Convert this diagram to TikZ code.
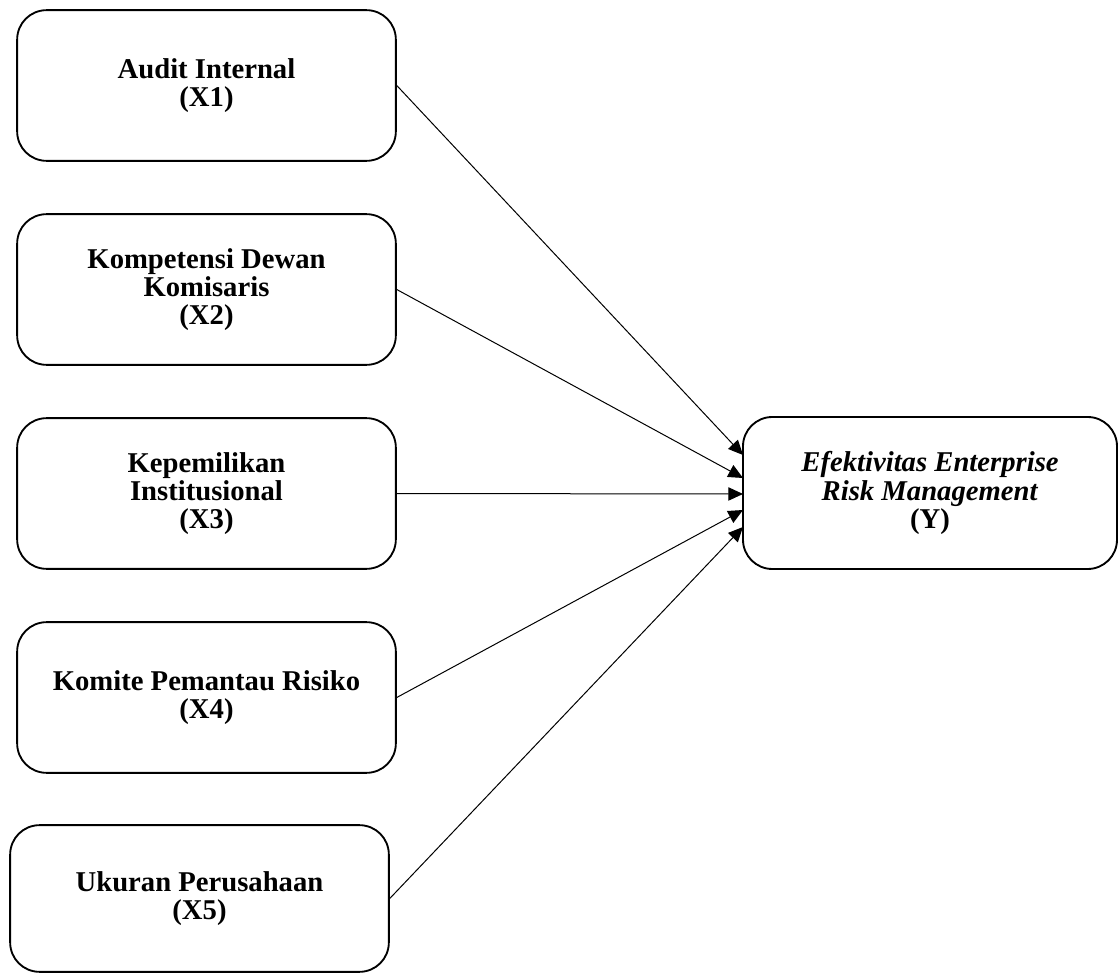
\documentclass[tikz,border=0pt]{standalone}
\usepackage{fontspec}
\setmainfont{Liberation Serif}
\usetikzlibrary{arrows.meta}
\begin{document}
\begin{tikzpicture}[x=0.75pt,y=-0.75pt,
  box/.style={draw, line width=1.4pt, rounded corners=22pt, minimum width=284pt,
    minimum height=113pt, inner sep=0pt, align=center,
    font=\fontsize{21.5}{21.2}\selectfont\bfseries},
  arr/.style={line width=0.75pt, -{Triangle[length=11pt,width=10pt]}}]
\useasboundingbox (0,0) rectangle (1118,973);
\node[box] (x1) at (206.5,85.5) {Audit Internal\\(X1)};
\node[box] (x2) at (206.5,289.5) {Kompetensi Dewan\\Komisaris\\(X2)};
\node[box] (x3) at (206.5,493.5) {Kepemilikan\\Institusional\\(X3)};
\node[box] (x4) at (206.5,697.5) {Komite Pemantau Risiko\\(X4)};
\node[box, minimum height=110pt] (x5) at (199.5,898.5) {Ukuran Perusahaan\\(X5)};
\node[box, minimum width=280.5pt, minimum height=114pt] (y) at (930,493)
  {\textit{Efektivitas Enterprise}\\\textit{Risk Management}\\(Y)};
\coordinate (t1) at (743,455);
\coordinate (t2) at (743,478);
\coordinate (t3) at (743,494);
\coordinate (t4) at (743,510);
\coordinate (t5) at (743,527);
\draw[arr] (x1.east) -- (t1);
\draw[arr] (x2.east) -- (t2);
\draw[arr] (x3.east) -- (t3);
\draw[arr] (x4.east) -- (t4);
\draw[arr] (x5.east) -- (t5);
\end{tikzpicture}
\end{document}
